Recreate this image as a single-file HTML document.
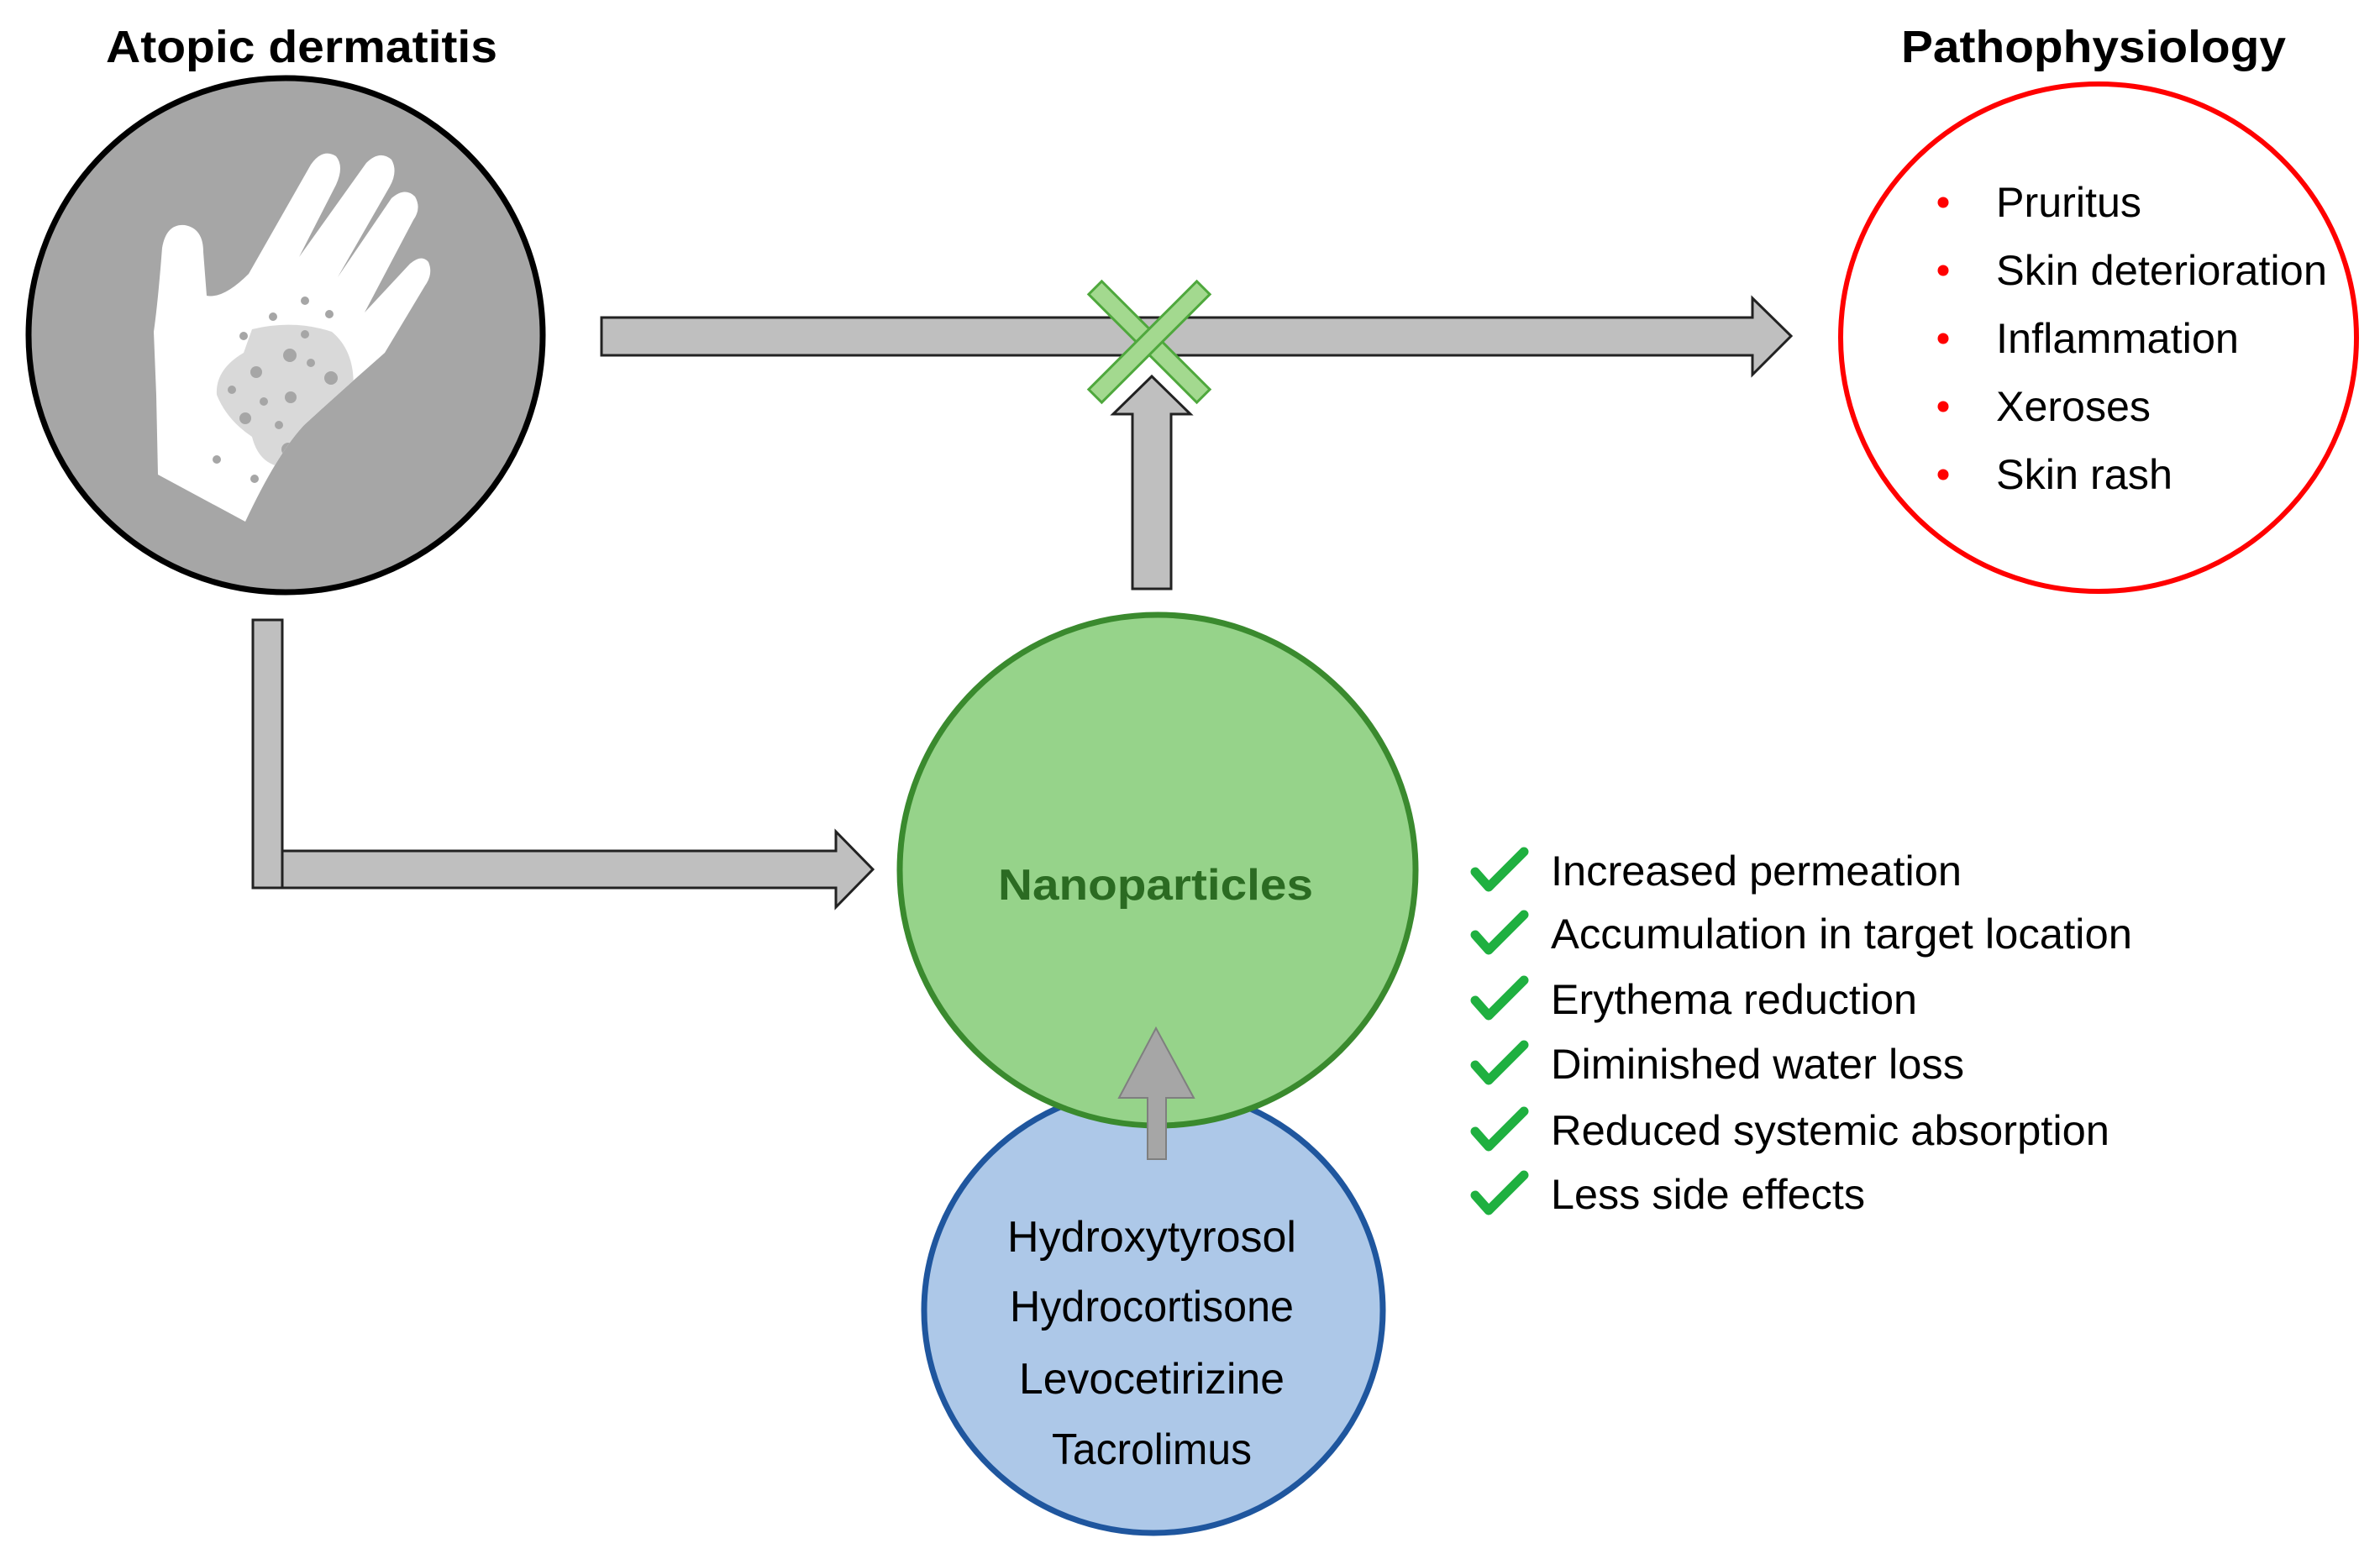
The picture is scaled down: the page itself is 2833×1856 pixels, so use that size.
<!DOCTYPE html>
<html><head><meta charset="utf-8"><style>html,body{margin:0;padding:0;background:#fff}svg{display:block}</style></head>
<body>
<svg width="2833" height="1856" viewBox="0 0 2833 1856" xmlns="http://www.w3.org/2000/svg" font-family="Liberation Sans, Arial, sans-serif">
<defs>
<clipPath id="hc"><path id="handp" d="M188,565 L186,470 L183,395 Q188,360 193,295 Q198,266 220,268 Q242,272 242,300 L246,352 Q266,356 296,326 L370,196 Q384,176 400,186 Q410,198 400,220 L356,306 L436,194 Q452,178 466,190 Q474,204 464,222 L402,330 L466,236 Q482,222 494,234 Q502,248 492,262 L434,372 L488,314 Q502,302 510,312 Q516,326 506,340 L458,420 Q410,462 362,506 Q330,540 292,621 Z"/></clipPath>
</defs>
<text x="126" y="74" font-size="54" font-weight="bold" textLength="466" lengthAdjust="spacingAndGlyphs">Atopic dermatitis</text>
<text x="2263" y="74" font-size="54" font-weight="bold" textLength="458" lengthAdjust="spacingAndGlyphs">Pathophysiology</text>
<circle cx="340" cy="399" r="306" fill="#a6a6a6" stroke="#000" stroke-width="7"/>
<use href="#handp" fill="#fff"/>
<g clip-path="url(#hc)">
<path d="M300,392 Q350,380 395,395 Q425,420 420,470 Q410,520 350,556 Q310,560 300,520 Q270,500 258,470 Q256,440 290,420 Z" fill="#d9d9d9"/>
<g fill="#a6a6a6">
<circle cx="345" cy="423" r="8"/><circle cx="370" cy="432" r="5"/><circle cx="305" cy="443" r="7"/><circle cx="394" cy="450" r="8"/>
<circle cx="276" cy="464" r="5"/><circle cx="314" cy="478" r="5"/><circle cx="346" cy="473" r="7"/><circle cx="292" cy="498" r="7"/>
<circle cx="332" cy="506" r="5"/><circle cx="380" cy="505" r="8"/><circle cx="343" cy="535" r="8"/><circle cx="363" cy="398" r="5"/>
<circle cx="363" cy="358" r="5"/><circle cx="325" cy="377" r="5"/><circle cx="392" cy="374" r="5"/><circle cx="290" cy="400" r="5"/>
<circle cx="258" cy="547" r="5"/><circle cx="303" cy="570" r="5"/>
</g></g>
<ellipse cx="2498" cy="402" rx="307" ry="302" fill="#fff" stroke="#ff0000" stroke-width="6"/>
<g fill="#ff0000"><circle cx="2313" cy="241" r="6.5"/><circle cx="2313" cy="322" r="6.5"/><circle cx="2313" cy="403" r="6.5"/><circle cx="2313" cy="484" r="6.5"/><circle cx="2313" cy="565" r="6.5"/></g>
<g font-size="50" fill="#000">
<text x="2376" y="258" textLength="173" lengthAdjust="spacingAndGlyphs">Pruritus</text>
<text x="2376" y="339" textLength="394" lengthAdjust="spacingAndGlyphs">Skin deterioration</text>
<text x="2376" y="420" textLength="289" lengthAdjust="spacingAndGlyphs">Inflammation</text>
<text x="2376" y="501" textLength="184" lengthAdjust="spacingAndGlyphs">Xeroses</text>
<text x="2376" y="582" textLength="210" lengthAdjust="spacingAndGlyphs">Skin rash</text>
</g>
<path d="M716,378 L2086,378 L2086,355 L2132,400 L2086,446 L2086,423 L716,423 Z" fill="#bfbfbf" stroke="#222" stroke-width="3"/>
<path d="M1348,701 L1348,493 L1325,493 L1371,448 L1417,493 L1394,493 L1394,701 Z" fill="#bfbfbf" stroke="#222" stroke-width="3"/>
<g fill="#a3d98f" stroke="#4fa83d" stroke-width="3">
<rect x="1277" y="396" width="182" height="22" transform="rotate(45 1368 407)"/>
<rect x="1277" y="396" width="182" height="22" transform="rotate(-45 1368 407)"/>
</g>
<path d="M301,738 L336,738 L336,1013 L995,1013 L995,990 L1039,1035 L995,1080 L995,1057 L301,1057 Z" fill="#bfbfbf" stroke="#222" stroke-width="3"/>
<line x1="336" y1="1013" x2="336" y2="1057" stroke="#222" stroke-width="3"/>
<ellipse cx="1373" cy="1560" rx="273" ry="265" fill="#adc8e8" stroke="#1f569e" stroke-width="7"/>
<ellipse cx="1378" cy="1036" rx="307" ry="304" fill="#96d38a" stroke="#3a8a2e" stroke-width="7"/>
<text x="1188" y="1071" font-size="52" font-weight="bold" fill="#2b6b22" textLength="375" lengthAdjust="spacingAndGlyphs">Nanoparticles</text>
<path d="M1366,1380 L1366,1307 L1332,1307 L1376,1224 L1421,1307 L1388,1307 L1388,1380 Z" fill="#a6a6a6" stroke="#7f7f7f" stroke-width="2"/>
<g font-size="52" fill="#000" text-anchor="middle">
<text x="1371" y="1490" textLength="344" lengthAdjust="spacingAndGlyphs">Hydroxytyrosol</text>
<text x="1371" y="1573" textLength="338" lengthAdjust="spacingAndGlyphs">Hydrocortisone</text>
<text x="1371" y="1659" textLength="316" lengthAdjust="spacingAndGlyphs">Levocetirizine</text>
<text x="1371" y="1743" textLength="238" lengthAdjust="spacingAndGlyphs">Tacrolimus</text>
</g>
<g fill="none" stroke="#1fb040" stroke-width="11" stroke-linecap="round" stroke-linejoin="round">
<path d="M1756,1038 L1772,1056 L1814,1014"/>
<path d="M1756,1113 L1772,1131 L1814,1089"/>
<path d="M1756,1191 L1772,1209 L1814,1167"/>
<path d="M1756,1268 L1772,1286 L1814,1244"/>
<path d="M1756,1347 L1772,1365 L1814,1323"/>
<path d="M1756,1423 L1772,1441 L1814,1399"/>
</g>
<g font-size="50" fill="#000">
<text x="1846" y="1054" textLength="489" lengthAdjust="spacingAndGlyphs">Increased permeation</text>
<text x="1846" y="1129" textLength="692" lengthAdjust="spacingAndGlyphs">Accumulation in target location</text>
<text x="1846" y="1207" textLength="436" lengthAdjust="spacingAndGlyphs">Erythema reduction</text>
<text x="1846" y="1284" textLength="492" lengthAdjust="spacingAndGlyphs">Diminished water loss</text>
<text x="1846" y="1363" textLength="665" lengthAdjust="spacingAndGlyphs">Reduced systemic absorption</text>
<text x="1846" y="1439" textLength="374" lengthAdjust="spacingAndGlyphs">Less side effects</text>
</g>
</svg>
</body></html>
